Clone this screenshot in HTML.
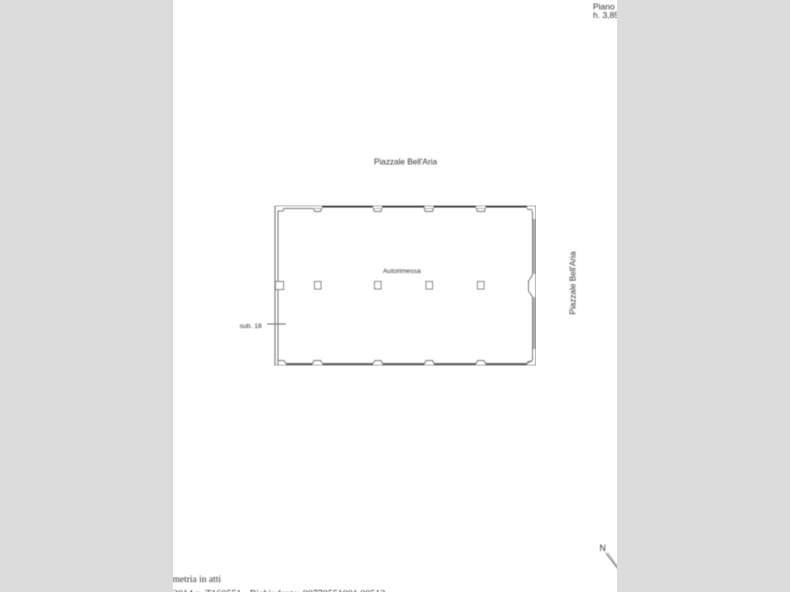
<!DOCTYPE html>
<html>
<head>
<meta charset="utf-8">
<style>
html,body{margin:0;padding:0;background:#dcdcdc;width:790px;height:592px;overflow:hidden}
svg{display:block;position:absolute;left:0;top:0}
text{font-family:"Liberation Sans",sans-serif;fill:#333}
</style>
</head>
<body>
<svg width="790" height="592" viewBox="0 0 790 592">
<defs><filter id="b" x="0" y="0" width="100%" height="100%"><feGaussianBlur stdDeviation="0.4"/></filter></defs>
<rect x="0" y="0" width="790" height="592" fill="#dcdcdc"/>
<rect x="173" y="0" width="444" height="592" fill="#ffffff"/>

<clipPath id="page"><rect x="173" y="0" width="444" height="592"/></clipPath>
<g clip-path="url(#page)" filter="url(#b)">
  <text x="593" y="9.5" font-size="8.5">Piano</text>
  <text x="593" y="18" font-size="8.5">h. 3,85</text>
  <text x="374" y="164.5" font-size="8.2">Piazzale Bell'Aria</text>
  <text x="383" y="273" font-size="6.8" fill="#111">Autorimessa</text>
  <text x="239.5" y="328" font-size="6.8" fill="#222">sub. 18</text>
  <text transform="translate(575.5,314.5) rotate(-90)" font-size="8.2">Piazzale Bell'Aria</text>
  <text x="599.5" y="551" font-size="8.8" fill="#222">N</text>
  <line x1="606" y1="553" x2="618" y2="569" stroke="#777" stroke-width="1.1"/>
  <line x1="608" y1="553" x2="618" y2="567" stroke="#aaa" stroke-width="0.8"/>
  <text x="172.5" y="582" font-size="9.5" style="font-family:'Liberation Serif',serif" fill="#222">metria in atti</text>
  <text x="173" y="597" font-size="10" style="font-family:'Liberation Serif',serif" fill="#222">2014 n. T160551 - Richiedente: 00770551001 00513</text>
</g>

<g filter="url(#b)">
<!-- outer wall -->
<rect x="275" y="205.5" width="261" height="160" fill="none" stroke="#777" stroke-width="1.1"/>

<!-- top wall dark strip -->
<path d="M322 206.8H373M382 206.8H424.5M433.5 206.8H476M485.5 206.8H527" stroke="#333" stroke-width="1.5" fill="none"/>
<!-- top inner outline with pilasters -->
<path d="M278 365V211H283L284 208.5H313.5L314.5 211.5H320.5L322 208M373 208L374.5 211.5H381L382 208M424 208L425.5 211.5H432.5L433.5 208M476 208L477.5 211.5H484.5L485.5 208M527 208L528 209.5H531.5L532.5 212V218"
 fill="none" stroke="#777" stroke-width="1"/>
<path d="M313 208.5H322M373 208.5H382M424 208.5H433M476 208.5H485" stroke="#999" stroke-width="0.7" fill="none"/>

<!-- right window wall -->
<rect x="532" y="219" width="3.6" height="55" fill="#b0b0b0"/>
<rect x="532" y="297" width="3.6" height="52" fill="#b0b0b0"/>
<path d="M532.5 212V275L528.5 281V291L532.5 297V360L528 363" fill="none" stroke="#777" stroke-width="1"/>

<!-- bottom wall -->
<path d="M286 364H312.5M322.5 364H373M382.5 364H424.5M434 364H476M485.5 364H527" stroke="#666" stroke-width="2.1" fill="none"/>
<path d="M278 360.5H284L286 363.5M312.5 363.5L314 360.5H320.5L322.5 363.5M373 363.5L375 360.5H381L382.5 363.5M424.5 363.5L426 360.5H432.5L434 363.5M476 363.5L477.5 360.5H484L485.5 363.5M527 364L528 361.5H532"
 fill="none" stroke="#777" stroke-width="1"/>

<!-- left pilaster -->
<rect x="275.5" y="281.5" width="8" height="8" fill="#fff" stroke="#777" stroke-width="1"/>

<!-- pillars -->
<g fill="#fff" stroke="#777" stroke-width="1">
  <rect x="314.5" y="281.5" width="6.5" height="7.5"/>
  <rect x="374.5" y="281.5" width="6.5" height="7.5"/>
  <rect x="426" y="281.5" width="6.5" height="7.5"/>
  <rect x="477.5" y="281.5" width="6.5" height="7.5"/>
</g>

<!-- sub 18 tick -->
<line x1="267" y1="324" x2="286" y2="324" stroke="#666" stroke-width="1"/>
</g>
</svg>
</body>
</html>
